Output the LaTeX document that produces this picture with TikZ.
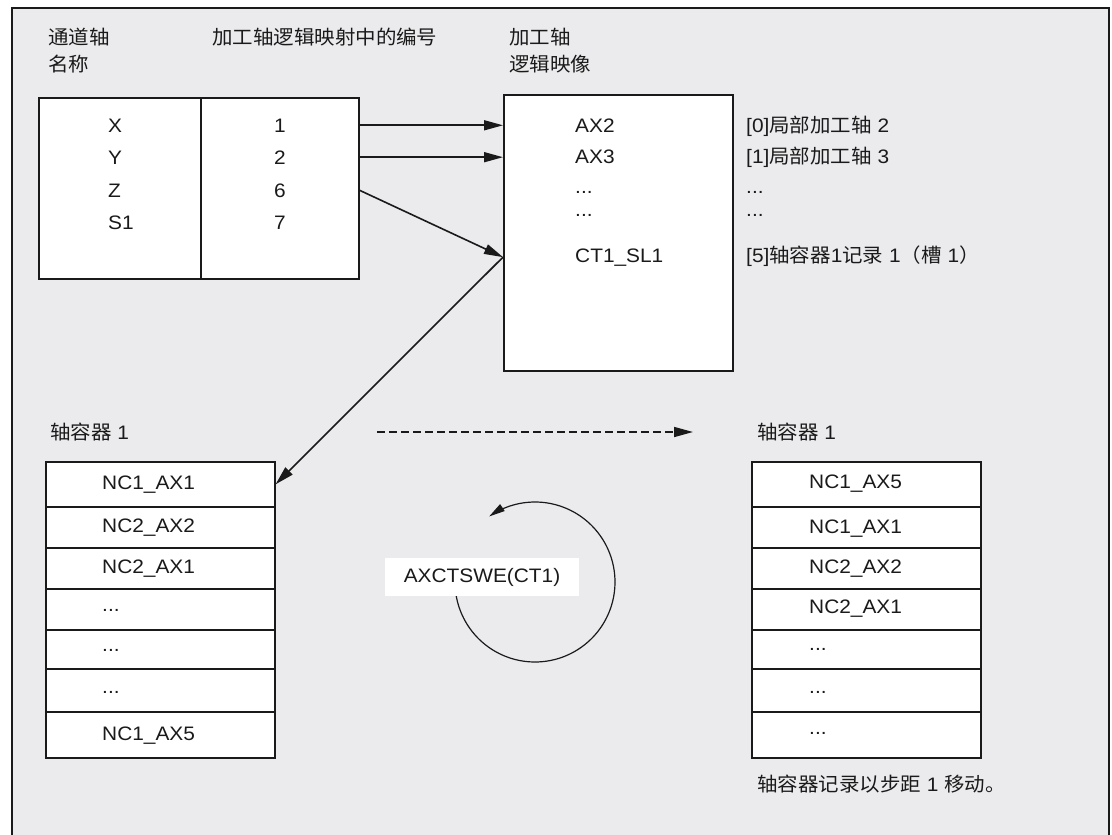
\documentclass[tikz,border=0pt]{standalone}
\usepackage{fontspec}
\setmainfont[FakeStretch=1.07]{Liberation Sans}
\newfontfamily\cjk[Scale=1.0,FakeStretch=1.05]{Noto Sans CJK SC}
\usetikzlibrary{arrows.meta}
\definecolor{bg}{HTML}{EBEBED}
\definecolor{ink}{HTML}{1A1A1A}
\begin{document}
\begin{tikzpicture}[x=1pt,y=-1pt,
  txt/.style={font=\fontsize{19.5}{22}\selectfont, text=ink, inner sep=0pt, anchor=base west},
  ctxt/.style={txt, anchor=base},
  box/.style={draw=ink, line width=1.6pt, fill=white, inner sep=0pt, anchor=north west},
  row/.style={box, minimum width=229pt},
  arr/.style={draw=ink, line width=1.6pt, -{Triangle[length=19pt,width=10pt]}},
  dashline/.style={dash pattern=on 8pt off 4pt}]
\useasboundingbox (0,0) rectangle (1112,835);
\begin{scope}
\clip (0,0) rectangle (1112,835);
\node[draw=ink, fill=bg, line width=2pt, inner sep=0pt, anchor=north west,
      minimum width=1097pt, minimum height=840pt] (frame) at (11,7) {};
\end{scope}

% headers
\node[txt] (h1a) at (48,45) {\cjk 通道轴};
\node[txt] (h1b) at (48,71) {\cjk 名称};
\node[txt] (h2) at (212,45) {\cjk 加工轴逻辑映射中的编号};
\node[txt] (h3a) at (509,45) {\cjk 加工轴};
\node[txt] (h3b) at (509,71) {\cjk 逻辑映像};

% left table
\node[box, minimum width=320pt, minimum height=181pt] (lt) at (38,97) {};
\coordinate (dv) at (201,97);
\draw[ink, line width=1.6pt] (dv) -- (dv |- lt.south);
\node[txt] (cx) at (108,132) {X};
\node[txt] (cy) at (108,164) {Y};
\node[txt] (cz) at (108,197) {Z};
\node[txt] (cs) at (108,229) {S1};
\node[ctxt] (n1) at (280,132) {1};
\node[ctxt] (n2) at (280,164) {2};
\node[ctxt] (n6) at (280,197) {6};
\node[ctxt] (n7) at (280,229) {7};

% logical image box
\node[box, minimum width=229pt, minimum height=276pt] (mb) at (503,94) {};
\node[txt] (a2) at (575,132) {AX2};
\node[txt] (a3) at (575,163) {AX3};
\node[txt] (ad1) at (575,193) {...};
\node[txt] (ad2) at (575,216) {...};
\node[txt] (ct) at (575,262) {CT1\_SL1};
\node[txt] (l0) at (746,132) {[0]{\cjk 局部加工轴} 2};
\node[txt] (l1) at (746,163) {[1]{\cjk 局部加工轴} 3};
\node[txt] (ld1) at (746,193) {...};
\node[txt] (ld2) at (746,216) {...};
\node[txt] (l5) at (746,262) {[5]{\cjk 轴容器}1{\cjk 记录} 1{\cjk （槽} 1{\cjk ）}};

% arrows
\draw[arr] (lt.east |- n1) -- (mb.west |- n1);
\draw[arr] (lt.east |- n2) -- (mb.west |- n2);
\draw[arr] (lt.east |- n6) -- (mb.west |- ct);

% left container
\node[txt] (lc) at (50,439) {{\cjk 轴容器} 1};
\node[row, minimum height=45pt] (r1) at (45,461) {};
\node[row, minimum height=41pt] (r2) at (45,506) {};
\node[row, minimum height=41pt] (r3) at (45,547) {};
\node[row, minimum height=41pt] (r4) at (45,588) {};
\node[row, minimum height=39pt] (r5) at (45,629) {};
\node[row, minimum height=43pt] (r6) at (45,668) {};
\node[row, minimum height=46pt] (r7) at (45,711) {};
\node[txt] (t1) at (102,489) {NC1\_AX1};
\node[txt] (t2) at (102,532) {NC2\_AX2};
\node[txt] (t3) at (102,573) {NC2\_AX1};
\node[txt] (t4) at (102,611) {...};
\node[txt] (t5) at (102,651) {...};
\node[txt] (t6) at (102,693) {...};
\node[txt] (t7) at (102,740) {NC1\_AX5};

\draw[arr] (mb.west |- ct) -- (r1.east);

% right container
\node[txt] (rc) at (757,439) {{\cjk 轴容器} 1};
\node[row, minimum height=45pt] (s1) at (751,461) {};
\node[row, minimum height=41pt] (s2) at (751,506) {};
\node[row, minimum height=41pt] (s3) at (751,547) {};
\node[row, minimum height=41pt] (s4) at (751,588) {};
\node[row, minimum height=39pt] (s5) at (751,629) {};
\node[row, minimum height=43pt] (s6) at (751,668) {};
\node[row, minimum height=46pt] (s7) at (751,711) {};
\node[txt] (u1) at (809,488) {NC1\_AX5};
\node[txt] (u2) at (809,533) {NC1\_AX1};
\node[txt] (u3) at (809,573) {NC2\_AX2};
\node[txt] (u4) at (809,613) {NC2\_AX1};
\node[txt] (u5) at (809,650) {...};
\node[txt] (u6) at (809,693) {...};
\node[txt] (u7) at (809,734) {...};
\node[txt] (note) at (757,791) {{\cjk 轴容器记录以步距} 1 {\cjk 移动。}};

% dashed arrow
\coordinate (d0) at (377,432);
\coordinate (d1) at (693,432);
\draw[arr, dashline] (d0) -- (d1);

% rotation
\draw[ink, line width=1.2pt, {Triangle[length=16pt,width=8pt]}-]
  plot[smooth, domain=-125:178, samples=80] ({535+80*cos(\x)},{582+80*sin(\x)});
\node[fill=white, inner sep=0pt, minimum width=194pt, minimum height=38pt,
      font=\fontsize{19.5}{22}\selectfont, text=ink] (fn) at (482,577) {AXCTSWE(CT1)};
\end{tikzpicture}
\end{document}
